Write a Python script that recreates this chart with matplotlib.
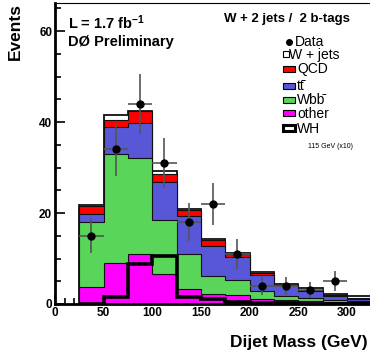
import numpy as np
import matplotlib
matplotlib.use('Agg')
import matplotlib.pyplot as plt
from matplotlib.patches import Rectangle
from matplotlib.lines import Line2D
from matplotlib.ticker import MultipleLocator

plt.rcParams['font.family'] = ['Liberation Sans', 'DejaVu Sans']
plt.rcParams['mathtext.fontset'] = 'custom'
plt.rcParams['mathtext.rm'] = 'Liberation Sans'
plt.rcParams['mathtext.bf'] = 'Liberation Sans:bold'
plt.rcParams['mathtext.it'] = 'Liberation Sans:italic'

# dijet mass bins (GeV)
edges = [25, 50, 75, 100, 125, 150, 175, 200, 225, 250, 275, 300, 325]

# stacked backgrounds, bottom to top
other = [3.8, 9.0, 10.9, 6.5, 3.2, 2.3, 2.0, 1.2, 0.8, 0.7, 0.5, 0.4]
wbb = [14.3, 24.1, 21.3, 11.9, 7.8, 3.9, 3.3, 1.6, 0.9, 0.7, 0.4, 0.3]
ttbar = [1.8, 5.9, 7.7, 8.5, 8.3, 6.6, 5.1, 3.6, 2.4, 1.5, 0.9, 0.5]
qcd = [1.6, 1.4, 2.5, 1.6, 1.4, 1.3, 0.7, 0.5, 0.1, 0.2, 0.1, 0.1]
wjets = [0.3, 1.1, 0.0, 0.7, 0.2, 0.2, 0.1, 0.1, 0.3, 0.4, 0.4, 0.4]

data = [15, 34, 44, 31, 18, 22, 11, 4, 4, 3, 5, 0]
wh_x10 = [0.0, 1.5, 8.8, 10.5, 1.6, 1.2, 0.5, 0.3, 0.2, 0.1, 0.1, 0.1]

colors = ['#ff00ff', '#59d659', '#5757d8', '#ff0000', '#ffffff']

edges = np.array(edges)
centers = (edges[:-1] + edges[1:]) / 2
layers = np.array([other, wbb, ttbar, qcd, wjets])
cum = np.cumsum(layers, axis=0)

fig = plt.figure(figsize=(3.7, 3.62), dpi=100)
ax = fig.add_axes([55 / 370, 58 / 362, 321 / 370, 301 / 362])

# draw like a THStack: largest cumulative first
for i in range(len(layers) - 1, -1, -1):
    lw = 1.3 if i == len(layers) - 1 else 0.8
    ax.stairs(cum[i], edges, baseline=0, fill=True, facecolor=colors[i],
              edgecolor='#111111', linewidth=lw, zorder=2)

ax.stairs(wh_x10, edges, baseline=0, color='black', linewidth=2.6, zorder=3)

d = np.array(data, dtype=float)
mask = d > 0
ax.errorbar(centers[mask], d[mask], yerr=np.sqrt(d[mask]), xerr=12.5,
            fmt='none', ecolor='#555555', elinewidth=1.2, zorder=4)
ax.plot(centers[mask], d[mask], 'o', color='black', ms=5, zorder=5)

ax.set_xlim(0, 330)
ax.set_ylim(0, 66.2)
ax.xaxis.set_major_locator(MultipleLocator(50))
ax.xaxis.set_minor_locator(MultipleLocator(10))
ax.yaxis.set_major_locator(MultipleLocator(20))
ax.yaxis.set_minor_locator(MultipleLocator(5))
ax.tick_params(which='both', direction='in', top=False, right=False,
               width=1.2, labelsize=8.5)
ax.tick_params(which='major', length=7, pad=2)
ax.tick_params(which='minor', length=4)
for lab in ax.get_xticklabels() + ax.get_yticklabels():
    lab.set_fontweight('bold')
ax.spines['left'].set_linewidth(2)
ax.spines['bottom'].set_linewidth(2)
ax.spines['top'].set_linewidth(0.8)
ax.spines['right'].set_visible(False)


def px(x, y):
    return x / 370, 1 - y / 362


fig.text(*px(15, 32), 'Events', rotation=90, ha='center', va='center',
         fontsize=12.5, fontweight='bold')
fig.text(*px(299, 343), 'Dijet Mass (GeV)', ha='center', va='center',
         fontsize=12.5, fontweight='bold')
fig.text(*px(68, 23), r'L = 1.7 fb$^{\mathbf{-1}}$', ha='left', va='center',
         fontsize=10.5, fontweight='bold')
fig.text(*px(68, 42), 'DØ Preliminary', ha='left', va='center',
         fontsize=10.5, fontweight='bold')
fig.text(*px(287, 19), 'W + 2 jets /  2 b-tags', ha='center', va='center',
         fontsize=9.5, fontweight='bold')

# legend, drawn by hand to follow the original spacing
fig.add_artist(Line2D([289 / 370], [1 - 42 / 362], transform=fig.transFigure,
                      marker='o', color='black', ms=4))
fig.text(*px(295, 42), 'Data', ha='left', va='center', fontsize=10)

leg_rows = [
    ('W + jets', '#ffffff', 54, 0.8, 289),
    ('QCD', colors[3], 69, 0.8, 297),
    ('tt\u0304', colors[2], 86, 0.8, 297),
    ('Wbb\u0304', colors[1], 100, 0.8, 297),
    ('other', colors[0], 113, 0.8, 297),
    ('WH', '#ffffff', 128, 2.2, 297),
]
for label, col, yc, lw, tx in leg_rows:
    bw = 6 if tx < 290 else 12
    x0, y0 = px(283, yc + 3.2)
    fig.add_artist(Rectangle((x0, y0), bw / 370, 6.5 / 362,
                             transform=fig.transFigure, facecolor=col,
                             edgecolor='black', linewidth=lw))
    fig.text(*px(tx, yc + 0.5), label, ha='left', va='center', fontsize=10)
fig.text(*px(308, 147), '115 GeV (x10)', ha='left', va='center', fontsize=5)

fig.savefig('out.png', dpi=100)
